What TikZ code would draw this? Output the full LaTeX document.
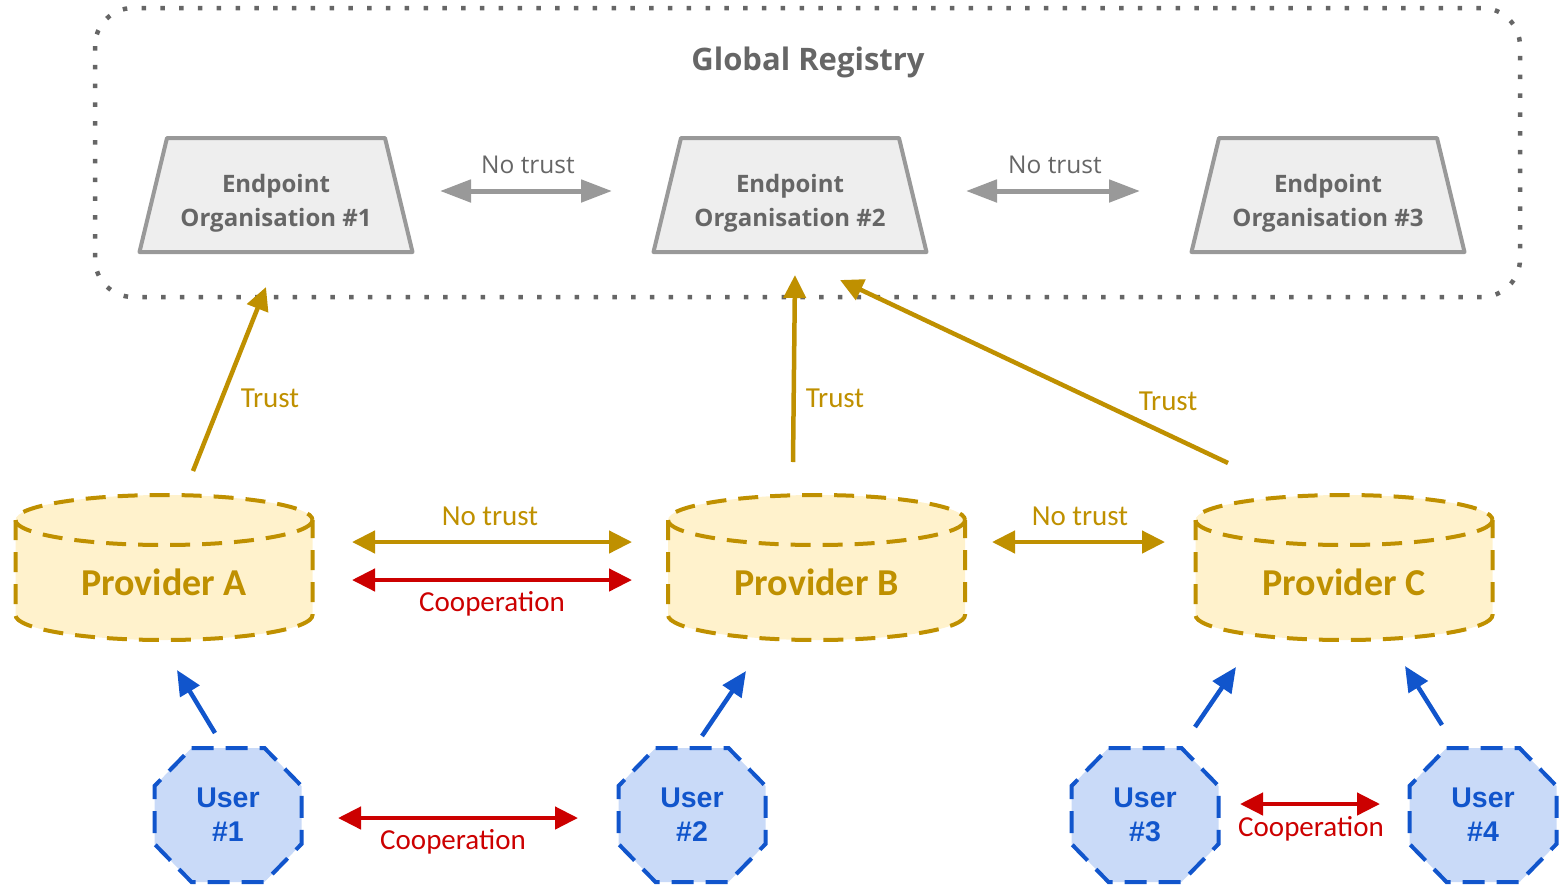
\documentclass[tikz,border=0pt]{standalone}
\usepackage{fontspec}
\setmainfont{Open Sans}
\newfontfamily\calfont{Carlito}
\newfontfamily\arialfont{Liberation Sans}
\usetikzlibrary{arrows.meta}
\definecolor{gold}{HTML}{BF9000}
\definecolor{goldfill}{HTML}{FFF2CC}
\definecolor{coopred}{HTML}{CC0000}
\definecolor{userblue}{HTML}{1155CC}
\definecolor{userfill}{HTML}{C9DAF8}
\definecolor{linegray}{HTML}{999999}
\definecolor{textgray}{HTML}{666666}
\definecolor{trapfill}{HTML}{EEEEEE}
\tikzset{
  registry/.style={draw=textgray, line width=4.5pt, dash pattern=on 4.5pt off 14.3pt, rounded corners=38pt},
  trapbox/.style={draw=linegray, fill=trapfill, line width=4pt, line join=round},
  traptext/.style={inner sep=0pt, align=center, text=textgray, font=\bfseries\fontsize{24}{34}\selectfont},
  provfill/.style={fill=goldfill},
  provline/.style={draw=gold, line width=4pt, dash pattern=on 20pt off 12pt},
  provtext/.style={inner sep=0pt, text=gold, font=\calfont\bfseries\fontsize{38}{40}\selectfont},
  userbox/.style={draw=userblue, fill=userfill, line width=4pt, dash pattern=on 22pt off 12pt},
  usertext/.style={inner sep=0pt, align=center, text=userblue, font=\arialfont\bfseries\fontsize{28.5}{34}\selectfont},
  grayarrow/.style={draw=linegray, line width=5pt, {Triangle[length=31pt,width=22pt]}-{Triangle[length=31pt,width=22pt]}},
  goldarrow/.style={draw=gold, line width=4.5pt, -{Triangle[length=23pt,width=22pt]}},
  goldboth/.style={draw=gold, line width=4.5pt, {Triangle[length=23pt,width=22pt]}-{Triangle[length=23pt,width=22pt]}},
  redboth/.style={draw=coopred, line width=4.5pt, {Triangle[length=23pt,width=22pt]}-{Triangle[length=23pt,width=22pt]}},
  bluearrow/.style={draw=userblue, line width=4.5pt, -{Triangle[length=25pt,width=22pt]}},
  graylabel/.style={inner sep=0pt, text=textgray, font=\fontsize{24.5}{28}\selectfont},
  goldlabel/.style={inner sep=0pt, text=gold, font=\calfont\fontsize{29}{32}\selectfont},
  redlabel/.style={inner sep=0pt, text=coopred, font=\calfont\fontsize{29}{32}\selectfont}
}
\newcommand\TrapShape[3]{%
  \draw[trapbox, shift={(#2,0)}] (-109,138) -- (109,138) -- (136.5,252) -- (-136.5,252) -- cycle;
  \node[traptext] (#1) at (#2,203) {Endpoint\\Organisation #3};
}
\newcommand\CylShape[3]{%
  \fill[provfill, shift={(#2,0)}] (-148.5,520) -- (-148.5,615) arc[start angle=180,end angle=0,x radius=148.5,y radius=25] -- (148.5,520) arc[start angle=0,end angle=-180,x radius=148.5,y radius=25] -- cycle;
  \draw[provline, shift={(#2,0)}] (0,520) ellipse [x radius=148.5, y radius=25];
  \draw[provline, shift={(#2,0)}] (-148.5,520) -- (-148.5,615) arc[start angle=180,end angle=0,x radius=148.5,y radius=25] -- (148.5,520);
  \node[provtext] (#1) at (#2,582) {#3};
}
\newcommand\UserShape[3]{%
  \draw[userbox, shift={(#2,815)}] (-36.5,-67) -- (36.5,-67) -- (73.5,-29) -- (73.5,29) -- (36.5,67) -- (-36.5,67) -- (-73.5,29) -- (-73.5,-29) -- cycle;
  \node[usertext] (#1) at (#2,815) {User\\#3};
}
\begin{document}
\begin{tikzpicture}[x=1pt,y=-1pt]
\useasboundingbox (0,0) rectangle (1568,884);
% registry frame
\draw[registry] (95,8) rectangle (1520,297);
\node[inner sep=0pt, text=textgray, font=\bfseries\fontsize{31}{34}\selectfont] (title) at (808,62) {Global Registry};
% endpoints
\TrapShape{e1}{276}{\#1}
\TrapShape{e2}{790}{\#2}
\TrapShape{e3}{1328}{\#3}
% providers
\CylShape{pa}{164}{Provider A}
\CylShape{pb}{816.5}{Provider B}
\CylShape{pc}{1344}{Provider C}
% users
\UserShape{u1}{228}{\#1}
\UserShape{u2}{692}{\#2}
\UserShape{u3}{1145}{\#3}
\UserShape{u4}{1483}{\#4}
% arrow end coordinates
\coordinate (n1a) at (440,191); \coordinate (n1b) at (612,191);
\coordinate (n2a) at (966,191); \coordinate (n2b) at (1140,191);
\coordinate (ta0) at (193,471); \coordinate (ta1) at (266,287);
\coordinate (tb0) at (793,462); \coordinate (tb1) at (795,275);
\coordinate (tc0) at (1228,463); \coordinate (tc1) at (840,280);
\coordinate (pab0) at (352,542); \coordinate (pab1) at (632,542);
\coordinate (cab0) at (352,580); \coordinate (cab1) at (632,580);
\coordinate (pbc0) at (992,542); \coordinate (pbc1) at (1165,542);
\coordinate (b10) at (215,733); \coordinate (b11) at (177,670);
\coordinate (b20) at (702,736); \coordinate (b21) at (746,671);
\coordinate (b30) at (1195,727); \coordinate (b31) at (1236,667);
\coordinate (b40) at (1442,725); \coordinate (b41) at (1405,666);
\coordinate (c120) at (338,818); \coordinate (c121) at (578,818);
\coordinate (c340) at (1240,804); \coordinate (c341) at (1380,804);
% arrows
\draw[grayarrow] (n1a) -- (n1b);
\draw[grayarrow] (n2a) -- (n2b);
\node[graylabel] (l1) at (528,165) {No trust};
\node[graylabel] (l2) at (1055,165) {No trust};
\draw[goldarrow] (ta0) -- (ta1);
\draw[goldarrow] (tb0) -- (tb1);
\draw[goldarrow] (tc0) -- (tc1);
\node[goldlabel] (lt1) at (270,398) {Trust};
\node[goldlabel] (lt2) at (835,398) {Trust};
\node[goldlabel] (lt3) at (1168,401) {Trust};
\draw[goldboth] (pab0) -- (pab1);
\draw[redboth] (cab0) -- (cab1);
\draw[goldboth] (pbc0) -- (pbc1);
\node[goldlabel] (lp1) at (490,516) {No trust};
\node[redlabel] (lc1) at (492,604) {Cooperation};
\node[goldlabel] (lp2) at (1080,516) {No trust};
\draw[bluearrow] (b10) -- (b11);
\draw[bluearrow] (b20) -- (b21);
\draw[bluearrow] (b30) -- (b31);
\draw[bluearrow] (b40) -- (b41);
\draw[redboth] (c120) -- (c121);
\draw[redboth] (c340) -- (c341);
\node[redlabel] (lc2) at (453,842) {Cooperation};
\node[redlabel] (lc3) at (1311,829) {Cooperation};
\end{tikzpicture}
\end{document}
